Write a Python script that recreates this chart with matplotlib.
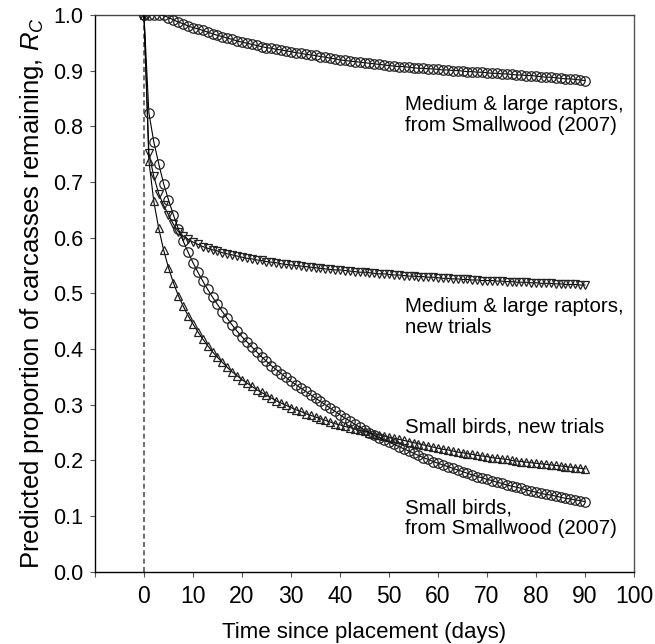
# Predicted carcass persistence curves (R_C) for raptors and small birds
import matplotlib
matplotlib.use("Agg")
import matplotlib.pyplot as plt
import numpy as np

# -------------------------------------------------------------------------------------------------
# Data, one value per day (0 to 90)

days = list(range(0, 91))

raptors_smallwood = [
    1.000, 1.000, 1.000, 1.000, 0.999, 0.995, 0.991, 0.987, 0.984, 0.980,
    0.977, 0.975, 0.972, 0.969, 0.966, 0.963, 0.961, 0.958, 0.956, 0.953,
    0.951, 0.949, 0.947, 0.945, 0.943, 0.941, 0.940, 0.938, 0.937, 0.935,
    0.934, 0.932, 0.931, 0.929, 0.928, 0.927, 0.925, 0.924, 0.922, 0.921,
    0.919, 0.918, 0.917, 0.916, 0.915, 0.914, 0.913, 0.912, 0.911, 0.910,
    0.909, 0.908, 0.907, 0.907, 0.906, 0.905, 0.904, 0.904, 0.903, 0.903,
    0.902, 0.901, 0.901, 0.900, 0.900, 0.899, 0.898, 0.898, 0.897, 0.897,
    0.896, 0.895, 0.895, 0.894, 0.894, 0.893, 0.892, 0.892, 0.891, 0.891,
    0.890, 0.889, 0.888, 0.888, 0.887, 0.886, 0.885, 0.885, 0.884, 0.883,
    0.882,
]

raptors_new = [
    1.000, 0.752, 0.710, 0.679, 0.658, 0.641, 0.624, 0.611, 0.603, 0.597,
    0.592, 0.588, 0.584, 0.581, 0.578, 0.576, 0.573, 0.571, 0.569, 0.567,
    0.565, 0.563, 0.562, 0.560, 0.559, 0.557, 0.556, 0.555, 0.553, 0.552,
    0.551, 0.550, 0.549, 0.548, 0.547, 0.546, 0.545, 0.544, 0.543, 0.542,
    0.542, 0.541, 0.540, 0.539, 0.538, 0.538, 0.537, 0.536, 0.535, 0.535,
    0.534, 0.533, 0.533, 0.532, 0.531, 0.531, 0.530, 0.530, 0.529, 0.529,
    0.528, 0.527, 0.527, 0.526, 0.526, 0.525, 0.525, 0.524, 0.524, 0.523,
    0.523, 0.523, 0.522, 0.522, 0.521, 0.521, 0.520, 0.520, 0.520, 0.519,
    0.519, 0.518, 0.518, 0.518, 0.517, 0.517, 0.516, 0.516, 0.516, 0.515,
    0.515,
]

small_new = [
    1.000, 0.738, 0.665, 0.617, 0.578, 0.546, 0.519, 0.496, 0.477, 0.460,
    0.445, 0.431, 0.418, 0.406, 0.395, 0.385, 0.376, 0.367, 0.359, 0.352,
    0.345, 0.339, 0.333, 0.327, 0.322, 0.317, 0.312, 0.307, 0.303, 0.299,
    0.295, 0.291, 0.288, 0.284, 0.281, 0.278, 0.275, 0.272, 0.269, 0.266,
    0.264, 0.261, 0.259, 0.257, 0.254, 0.252, 0.250, 0.248, 0.246, 0.244,
    0.242, 0.240, 0.238, 0.236, 0.234, 0.232, 0.230, 0.228, 0.226, 0.224,
    0.222, 0.220, 0.219, 0.217, 0.215, 0.214, 0.212, 0.211, 0.209, 0.208,
    0.207, 0.205, 0.204, 0.203, 0.202, 0.200, 0.199, 0.198, 0.197, 0.196,
    0.195, 0.194, 0.193, 0.192, 0.191, 0.190, 0.189, 0.188, 0.187, 0.186,
    0.185,
]

small_smallwood = [
    1.000, 0.824, 0.772, 0.733, 0.697, 0.668, 0.641, 0.616, 0.594, 0.574,
    0.555, 0.538, 0.522, 0.507, 0.493, 0.480, 0.467, 0.455, 0.443, 0.432,
    0.422, 0.413, 0.404, 0.395, 0.386, 0.378, 0.370, 0.363, 0.356, 0.349,
    0.342, 0.336, 0.330, 0.324, 0.318, 0.312, 0.306, 0.300, 0.294, 0.288,
    0.282, 0.276, 0.271, 0.265, 0.260, 0.255, 0.250, 0.245, 0.241, 0.237,
    0.233, 0.229, 0.225, 0.221, 0.217, 0.213, 0.209, 0.205, 0.202, 0.198,
    0.195, 0.192, 0.189, 0.186, 0.183, 0.180, 0.177, 0.174, 0.171, 0.169,
    0.166, 0.164, 0.161, 0.159, 0.156, 0.154, 0.152, 0.150, 0.147, 0.145,
    0.143, 0.141, 0.139, 0.138, 0.136, 0.134, 0.132, 0.131, 0.129, 0.128,
    0.126,
]

x_ticks = list(range(-10, 101, 10))
x_tick_labels = [""] + [str(t) for t in range(0, 101, 10)]
y_ticks = [i / 10 for i in range(0, 11)]

# -------------------------------------------------------------------------------------------------

plt.rcParams["font.family"] = ["Liberation Sans", "DejaVu Sans"]
plt.rcParams["mathtext.fontset"] = "custom"
plt.rcParams["mathtext.rm"] = "Liberation Sans"
plt.rcParams["mathtext.it"] = "Liberation Sans:italic"

fig = plt.figure(figsize=(6.55, 6.44), dpi=100)
ax = fig.add_axes([0.145, 0.112, 0.823, 0.865])

# dashed line marking placement day
ax.plot([0, 0], [0, 1], linestyle=(0, (3, 2)), color="#555555", linewidth=1.2, zorder=1)

# General style for the four curves
def draw_curve(values, marker, size):
    ax.plot(days, values, color="black", linewidth=0.8, marker=marker,
            markersize=size, markerfacecolor="none", markeredgecolor="#222222",
            markeredgewidth=0.9, zorder=3)

draw_curve(raptors_smallwood, "o", 6.8)
draw_curve(raptors_new, "v", 5.3)
draw_curve(small_new, "^", 5.3)
draw_curve(small_smallwood, "o", 6.8)

# Curve labels
txt = dict(fontsize=14.8, ha="left", va="center", linespacing=1.12)
ax.text(53.3, 0.820, "Medium & large raptors,\nfrom Smallwood (2007)", **txt)
ax.text(53.3, 0.457, "Medium & large raptors,\nnew trials", **txt)
ax.text(53.3, 0.260, "Small birds, new trials", **txt)
ax.text(53.3, 0.096, "Small birds,\nfrom Smallwood (2007)", **txt)

ax.set_xlim(-10, 100)
ax.set_ylim(0, 1)
ax.set_xticks(x_ticks)
ax.set_xticklabels(x_tick_labels)
ax.set_yticks(y_ticks)
ax.set_yticklabels(["%.1f" % v for v in y_ticks])
ax.tick_params(direction="out", length=3.5, width=0.8, color="#555555", pad=5)
ax.tick_params(axis="y", labelsize=15.5)
ax.tick_params(axis="x", labelsize=16.5, pad=6)

for side in ["left", "bottom", "top", "right"]:
    ax.spines[side].set_linewidth(1.0)
ax.spines["left"].set_color("black")
ax.spines["bottom"].set_color("black")
ax.spines["top"].set_color("#444444")
ax.spines["right"].set_color("#555555")

ax.set_xlabel("Time since placement (days)", fontsize=16, labelpad=10)
ax.set_ylabel(r"Predicted proportion of carcasses remaining, $R_{\mathit{C}}$",
              fontsize=18.5, labelpad=5)

plt.savefig("out.png", dpi=100)
